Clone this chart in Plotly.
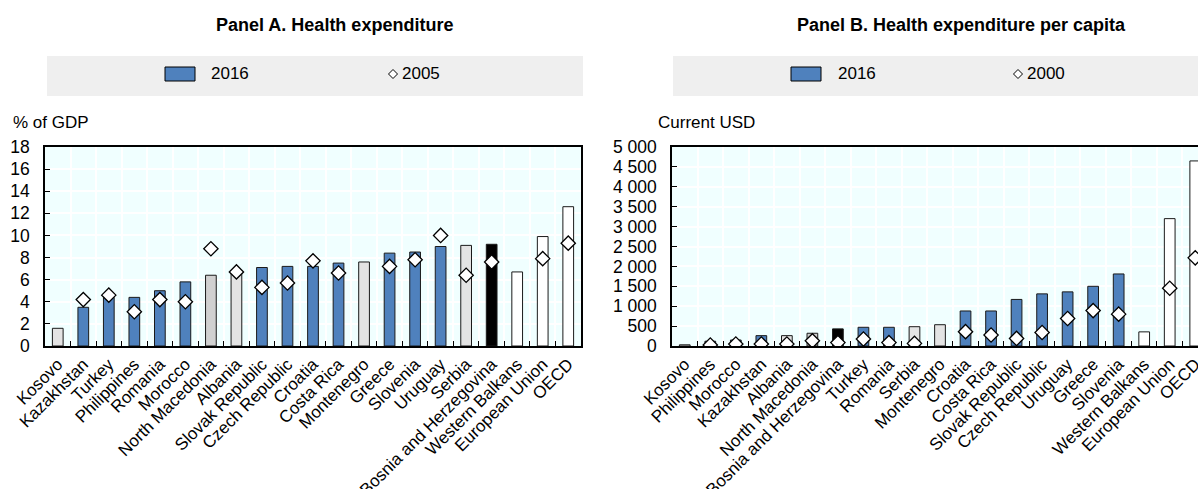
import plotly.graph_objects as go

# ---------------- data ----------------
cat_a = ["Kosovo", "Kazakhstan", "Turkey", "Philippines", "Romania", "Morocco",
         "North Macedonia", "Albania", "Slovak Republic", "Czech Republic", "Croatia",
         "Costa Rica", "Montenegro", "Greece", "Slovenia", "Uruguay", "Serbia",
         "Bosnia and Herzegovina", "Western Balkans", "European Union", "OECD"]
a_2016 = [1.6, 3.5, 4.4, 4.4, 5.0, 5.8, 6.4, 6.7, 7.1, 7.2, 7.2, 7.5, 7.6, 8.4, 8.5,
          9.0, 9.1, 9.2, 6.7, 9.9, 12.6]
a_2005 = [None, 4.2, 4.6, 3.1, 4.2, 4.0, 8.8, 6.7, 5.3, 5.7, 7.7, 6.6, None, 7.2, 7.8,
          10.0, 6.4, 7.6, None, 7.9, 9.3]

cat_b = ["Kosovo", "Philippines", "Morocco", "Kazakhstan", "Albania", "North Macedonia",
         "Bosnia and Herzegovina", "Turkey", "Romania", "Serbia", "Montenegro", "Croatia",
         "Costa Rica", "Slovak Republic", "Czech Republic", "Uruguay", "Greece", "Slovenia",
         "Western Balkans", "European Union", "OECD"]
b_2016 = [30, 120, 150, 260, 260, 320, 430, 470, 470, 485, 535, 880, 880, 1170, 1310,
          1360, 1500, 1810, 355, 3200, 4650]
b_2000 = [None, 25, 50, 50, 50, 130, 85, 175, 85, 65, None, 360, 275, 190, 340, 690,
          890, 800, None, 1450, 2215]

y_ticks_a = [0, 2, 4, 6, 8, 10, 12, 14, 16, 18]
y_ticks_b = [0, 500, 1000, 1500, 2000, 2500, 3000, 3500, 4000, 4500, 5000]

# ---------------- styling ----------------
W, H = 1198, 489
FONT = "Liberation Sans Narrow, Arial Narrow, Liberation Sans, Arial, sans-serif"
BLUE = "#4F81BD"
LIGHT = "#E3E3E3"
MID = "#D0D0D0"
light_set = {"Kosovo", "Albania", "Montenegro", "Serbia"}
mid_set = {"North Macedonia"}
black_set = {"Bosnia and Herzegovina"}
white_set = {"Western Balkans", "European Union", "OECD"}


def colour(c):
    if c in light_set:
        return LIGHT
    if c in mid_set:
        return MID
    if c in black_set:
        return "#000000"
    if c in white_set:
        return "#FFFFFF"
    return BLUE


def px(x):
    return x / W


def py(y):
    return 1 - y / H


fig = go.Figure()
fig.add_trace(go.Bar(x=cat_a, y=a_2016, marker=dict(color=[colour(c) for c in cat_a],
                     line=dict(color="#1a1a1a", width=1)), xaxis="x", yaxis="y",
                     showlegend=False))
fig.add_trace(go.Scatter(x=cat_a, y=a_2005, mode="markers",
                         marker=dict(symbol="diamond", size=11, color="white",
                                     line=dict(color="black", width=1.3)),
                         xaxis="x", yaxis="y", showlegend=False))
fig.add_trace(go.Bar(x=cat_b, y=b_2016, marker=dict(color=[colour(c) for c in cat_b],
                     line=dict(color="#1a1a1a", width=1)), xaxis="x2", yaxis="y2",
                     showlegend=False))
fig.add_trace(go.Scatter(x=cat_b, y=b_2000, mode="markers",
                         marker=dict(symbol="diamond", size=11, color="white",
                                     line=dict(color="black", width=1.3)),
                         xaxis="x2", yaxis="y2", showlegend=False))

plot_top, plot_bot = 147, 346
ax_a = (45, 581)
ax_b_left = 672
cat_w = (ax_a[1] - ax_a[0]) / 21
b_right_range = 20.5 - ((ax_b_left + 21 * cat_w) - W) / cat_w

xcommon = dict(type="category", tickson="boundaries", ticks="inside", ticklen=5,
               tickcolor="black", tickwidth=1.3, showline=True, linecolor="black",
               linewidth=1.5, mirror=True, showgrid=True, gridcolor="white", gridwidth=1.5,
               tickangle=-45, tickfont=dict(family=FONT, size=17, color="black"),
               automargin=False, fixedrange=True)
ycommon = dict(ticks="inside", ticklen=5, tickcolor="black", tickwidth=1.3, showline=True,
               linecolor="black", linewidth=1.5, showgrid=True, gridcolor="white",
               gridwidth=1.5, zeroline=False,
               tickfont=dict(family=FONT, size=17.5, color="black"),
               automargin=False, ticklabelstandoff=10)

fig.update_layout(
    width=W, height=H, margin=dict(l=0, r=0, t=0, b=0),
    paper_bgcolor="white", plot_bgcolor="#F0FFFF", bargap=0.58,
    separators=". ",
    font=dict(family=FONT, size=17, color="black"),
    xaxis=dict(domain=[px(ax_a[0]), px(ax_a[1])], anchor="y", range=[-0.5, 20.5], **xcommon),
    yaxis=dict(domain=[py(plot_bot), py(plot_top)], anchor="x", range=[0, 18],
               tickvals=y_ticks_a, mirror=True, **ycommon),
    xaxis2=dict(domain=[px(ax_b_left), 1.0], anchor="y2", range=[-0.5, b_right_range],
                **xcommon),
    yaxis2=dict(domain=[py(plot_bot), py(plot_top)], anchor="x2", range=[0, 5000],
                tickvals=y_ticks_b, tickformat=",d", mirror=False, **ycommon),
)

shapes = []
annots = []
# legend bands
band_top, band_bot = 56, 96
leg_y = 74
for (bx0, bx1, rx, tx, dx, lab) in [(47, 583, 165, 209, 393, "2005"),
                                    (673, W + 5, 791, 836, 1018, "2000")]:
    shapes.append(dict(type="rect", xref="paper", yref="paper", x0=px(bx0), x1=px(bx1),
                       y0=py(band_bot), y1=py(band_top), fillcolor="#EFEFEF", line_width=0,
                       layer="below"))
    shapes.append(dict(type="rect", xref="paper", yref="paper", x0=px(rx), x1=px(rx + 30),
                       y0=py(leg_y + 7), y1=py(leg_y - 7), fillcolor=BLUE,
                       line=dict(color="black", width=1)))
    annots.append(dict(xref="paper", yref="paper", x=px(tx), y=py(leg_y), text="2016",
                       showarrow=False, xanchor="left", yanchor="middle",
                       font=dict(family=FONT, size=17)))
    d = 4.5
    path = (f"M {px(dx - d)} {py(leg_y)} L {px(dx)} {py(leg_y - d)} "
            f"L {px(dx + d)} {py(leg_y)} L {px(dx)} {py(leg_y + d)} Z")
    shapes.append(dict(type="path", xref="paper", yref="paper", path=path,
                       fillcolor="white", line=dict(color="black", width=1)))
    annots.append(dict(xref="paper", yref="paper", x=px(dx + 7), y=py(leg_y), text=lab,
                       showarrow=False, xanchor="left", yanchor="middle",
                       font=dict(family=FONT, size=17)))

annots.append(dict(xref="paper", yref="paper", x=px(334), y=py(25),
                   text="<b>Panel A. Health expenditure</b>", showarrow=False,
                   xanchor="center", yanchor="middle", font=dict(family=FONT, size=18)))
annots.append(dict(xref="paper", yref="paper", x=px(961), y=py(25),
                   text="<b>Panel B. Health expenditure per capita</b>", showarrow=False,
                   xanchor="center", yanchor="middle", font=dict(family=FONT, size=18)))
annots.append(dict(xref="paper", yref="paper", x=px(11), y=py(122), text="% of GDP",
                   showarrow=False, xanchor="left", yanchor="middle",
                   font=dict(family=FONT, size=17)))
annots.append(dict(xref="paper", yref="paper", x=px(656), y=py(122), text="Current USD",
                   showarrow=False, xanchor="left", yanchor="middle",
                   font=dict(family=FONT, size=17)))

fig.update_layout(shapes=shapes, annotations=annots)

fig.write_html("out.html", config={"displayModeBar": False},
               post_script="document.body.style.margin='0';document.body.style.overflow='hidden';")
